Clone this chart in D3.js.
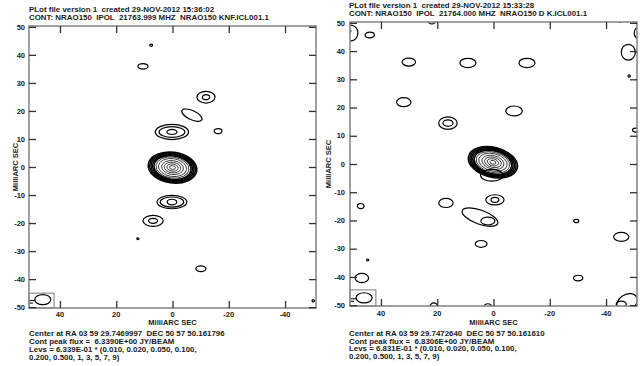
<!DOCTYPE html>
<html><head><meta charset="utf-8">
<script src="https://cdn.jsdelivr.net/npm/d3@7"></script>
<style>
html,body{margin:0;padding:0;background:#fff;}
svg text{font-family:"Liberation Sans",Arial,sans-serif;font-weight:bold;fill:#1a1a1a;white-space:pre;}
</style></head>
<body><svg id="c" width="643" height="366"></svg>
<script>
// ---- data ----
const xTicks = [40, 20, 0, -20, -40];
const yTicks = [50, 40, 30, 20, 10, 0, -10, -20, -30, -40, -50];
const axisTitle = "MilliARC SEC";
const leftHeader = ["PLot file version 1  created 29-NOV-2012 15:36:02",
                    "CONT: NRAO150  IPOL  21763.999 MHZ  NRAO150 KNF.ICL001.1"];
const rightHeader = ["PLot file version 1  created 29-NOV-2012 15:33:28",
                     "CONT: NRAO150  IPOL  21764.000 MHZ  NRAO150 D K.ICL001.1"];
const leftFooter = ["Center at RA 03 59 29.7469997  DEC 50 57 50.161796",
                    "Cont peak flux =  6.3390E+00 JY/BEAM",
                    "Levs = 6.339E-01 * (0.010, 0.020, 0.050, 0.100,",
                    "0.200, 0.500, 1, 3, 5, 7, 9)"];
const rightFooter = ["Center at RA 03 59 29.7472640  DEC 50 57 50.161610",
                     "Cont peak flux =  6.8306E+00 JY/BEAM",
                     "Levs = 6.831E-01 * (0.010, 0.020, 0.050, 0.100,",
                     "0.200, 0.500, 1, 3, 5, 7, 9)"];
// core ring scale factors (outer contour = 1)
const coreRings = [1, 0.94, 0.88, 0.82, 0.76, 0.68, 0.58, 0.45, 0.34, 0.23, 0.12];
// cores: [x mas, y mas, rx mas, ry mas, rotation deg]
const leftCore = [0.0, -0.2, 8.7, 5.5, 8];
const rightCore = [0.2, 0.6, 8.9, 5.3, 14];
// single contours: [x mas, y mas, rx mas, ry mas, rotation deg]
const leftContours = [
  [7.6, 43.4, 0.5, 0.4, 0],
  [10.5, 35.9, 1.8, 1.0, 0],
  [-11.9, 24.9, 3.2, 2.1, 0], [-11.9, 24.9, 1.3, 0.9, 0],
  [-6.9, 18.5, 3.9, 1.6, 25],
  [-16.2, 12.8, 1.4, 0.9, 0],
  [0.2, 12.5, 5.9, 2.7, 0], [0.2, 12.5, 4.6, 1.9, 0], [0.2, 12.5, 1.8, 0.9, 0],
  [0.2, -12.5, 5.3, 2.4, 0], [0.2, -12.5, 4.2, 1.8, 0], [0.2, -12.5, 1.7, 1.0, 0],
  [6.9, -19.2, 3.6, 1.95, 0], [6.9, -19.2, 1.6, 0.9, 0],
  [12.3, -25.6, 0.4, 0.3, 0],
  [-10.1, -36.3, 1.8, 1.0, 0],
  [-50.0, -47.7, 0.4, 0.4, 0]
];
const rightContours = [
  [0.6, -4.0, 4.0, 2.1, 0],
  [50.7, 46.4, 2.5, 2.8, 0], [51.0, 47.0, 0.3, 0.3, 0],
  [44.0, 45.7, 1.65, 1.0, 0],
  [30.1, 36.1, 2.4, 1.4, 0],
  [9.1, 35.8, 2.85, 1.65, 0],
  [-11.9, 35.8, 2.85, 1.65, 0],
  [31.9, 21.9, 2.55, 1.6, 0],
  [-7.3, 18.8, 2.95, 1.75, 0],
  [16.2, 14.5, 3.3, 2.2, 0], [16.2, 14.5, 1.8, 1.15, 0],
  [21.9, 51.0, 1.4, 1.4, 0],
  [-0.5, -12.7, 3.25, 1.8, 0], [-0.5, -12.7, 1.4, 0.9, 0],
  [16.9, -13.8, 2.55, 1.6, 0],
  [47.2, -14.9, 1.2, 0.9, 0],
  [4.8, -18.8, 6.7, 2.5, 20], [2.0, -20.2, 2.5, 1.4, 0],
  [4.4, -28.3, 2.1, 1.2, 0],
  [-29.4, -20.2, 0.9, 0.6, 0],
  [-45.4, -25.8, 2.7, 1.6, 0],
  [-30.1, -40.4, 1.65, 1.0, 0],
  [46.8, -40.4, 2.4, 1.65, 0],
  [44.7, -34.0, 0.35, 0.35, 0],
  [21.2, -50.6, 1.4, 1.4, 0],
  [2.0, -50.6, 1.4, 1.1, 0],
  [-47.5, -49.0, 3.9, 2.8, -30], [-45.4, -49.6, 1.8, 1.0, 0],
  [-47.9, 39.6, 2.5, 2.8, 0],
  [-52.0, 46.4, 2.0, 2.2, 0],
  [-48.2, 31.2, 0.4, 0.4, 0],
  [-50.4, 12.0, 1.0, 0.7, 0],
  [-45.0, 50.6, 0.4, 0.4, 0]
];
// beam: [x, y, rx, ry, rot], box: [xLeft, xRight, yBottom, yTop] (mas)
const leftBeam = [46.1, -47.3, 2.85, 1.8, 0];
const leftBeamBox = [51, 42.1, -50.3, -45.0];
const rightBeam = [46.0, -47.4, 2.85, 1.8, 0];
const rightBeamBox = [51, 41.8, -50.3, -44.6];

// ---- layout ----
const svg = d3.select("#c");
const panels = [
  {id:"L", xr:[29,316], yr:[308,26], header:leftHeader, footer:leftFooter,
   core:leftCore, contours:leftContours, beam:leftBeam, box:leftBeamBox,
   hx:29, hy:[12.4,20.4], fy:[336,343.8,351.8,359.6], tickLabY:317, titleY:325.2, yTitleX:18, yLabX:25},
  {id:"R", xr:[350,637], yr:[306,22], header:rightHeader, footer:rightFooter,
   core:rightCore, contours:rightContours, beam:rightBeam, box:rightBeamBox,
   hx:349, hy:[7.6,15.6], fy:[335.8,343.6,351.4,359.2], tickLabY:316.3, titleY:324.6, yTitleX:331, yLabX:345}
];

function widen(sel, k) {
  sel.each(function() {
    const L = this.getComputedTextLength();
    d3.select(this).attr("textLength", L * k).attr("lengthAdjust", "spacingAndGlyphs");
  });
}

panels.forEach(p => {
  const x = d3.scaleLinear().domain([51, -51]).range(p.xr);
  const y = d3.scaleLinear().domain([-50.3, 50.3]).range(p.yr);
  const g = svg.append("g");
  const kx = Math.abs(x(1) - x(0)), ky = Math.abs(y(1) - y(0));

  svg.append("clipPath").attr("id", "clip" + p.id).append("rect")
    .attr("x", p.xr[0]).attr("y", p.yr[1]).attr("width", p.xr[1]-p.xr[0]).attr("height", p.yr[0]-p.yr[1]);

  const cg = g.append("g").attr("clip-path", `url(#clip${p.id})`)
    .attr("fill", "none").attr("stroke", "#000");

  // core rings
  const c = p.core;
  cg.selectAll("ellipse.core").data(coreRings).join("ellipse")
    .attr("class", "core")
    .attr("transform", `translate(${x(c[0])},${y(c[1])}) rotate(${c[4]})`)
    .attr("rx", f => c[2]*f*kx).attr("ry", f => c[3]*f*ky)
    .attr("stroke-width", (f,i) => i < 5 ? 1.5 : 0.9)
    .attr("stroke", (f,i) => i < 5 ? "#000" : "#333");

  cg.selectAll("ellipse.cont").data(p.contours).join("ellipse")
    .attr("class", "cont")
    .attr("transform", d => `translate(${x(d[0])},${y(d[1])}) rotate(${d[4]})`)
    .attr("rx", d => d[2]*kx).attr("ry", d => d[3]*ky)
    .attr("stroke-width", 1.2);

  // beam
  const b = p.box;
  g.append("rect").attr("x", x(b[0])).attr("y", y(b[3]))
    .attr("width", x(b[1]) - x(b[0])).attr("height", y(b[2]) - y(b[3]))
    .attr("fill", "none").attr("stroke", "#777").attr("stroke-width", 1);
  const bm = p.beam;
  g.append("ellipse").attr("transform", `translate(${x(bm[0])},${y(bm[1])}) rotate(${bm[4]})`)
    .attr("rx", bm[2]*kx).attr("ry", bm[3]*ky)
    .attr("fill", "none").attr("stroke", "#000").attr("stroke-width", 1.2);
  g.append("line").attr("x1", x(b[0])).attr("x2", x(bm[0]) - bm[2]*kx)
    .attr("y1", y(bm[1]) + 1).attr("y2", y(bm[1]) + 1)
    .attr("stroke", "#000").attr("stroke-width", 1);
  g.append("line").attr("x1", x(b[0])).attr("x2", x(b[0]) + 4)
    .attr("y1", y(bm[1]) + 3.5).attr("y2", y(bm[1]) + 3.5)
    .attr("stroke", "#000").attr("stroke-width", 1);

  // frame
  g.append("rect").attr("x", p.xr[0]).attr("y", p.yr[1])
    .attr("width", p.xr[1]-p.xr[0]).attr("height", p.yr[0]-p.yr[1])
    .attr("fill", "none").attr("stroke", "#8a8a8a").attr("stroke-width", 1.6);

  // axes (ticks inward)
  const tl = 7;
  const axL = d3.axisRight(y).tickValues(yTicks).tickSize(tl).tickFormat("");
  const axR = d3.axisLeft(y).tickValues(yTicks).tickSize(tl).tickFormat("");
  const axT = d3.axisBottom(x).tickValues(xTicks).tickSize(tl).tickFormat("");
  const axB = d3.axisTop(x).tickValues(xTicks).tickSize(tl).tickFormat("");
  [[axL, `translate(${p.xr[0]},0)`], [axR, `translate(${p.xr[1]},0)`],
   [axT, `translate(0,${p.yr[1]})`], [axB, `translate(0,${p.yr[0]})`]].forEach(([ax, tr]) => {
    const a = g.append("g").attr("transform", tr).call(ax);
    a.select(".domain").remove();
    a.selectAll("line").attr("stroke", "#333").attr("stroke-width", 1.3);
  });

  // tick labels
  g.selectAll("text.yl").data(yTicks).join("text").attr("class", "yl")
    .attr("x", p.yLabX).attr("y", d => y(d) + 2.7).attr("text-anchor", "end")
    .attr("font-size", 7.5).text(d => d);
  g.selectAll("text.xl").data(xTicks).join("text").attr("class", "xl")
    .attr("x", d => x(d)).attr("y", p.tickLabY).attr("text-anchor", "middle")
    .attr("font-size", 7.5).text(d => d);
  g.append("text").attr("x", x(0)).attr("y", p.titleY).attr("text-anchor", "middle")
    .attr("font-size", 7.5).text(axisTitle);
  g.append("text").attr("transform", `translate(${p.yTitleX},${y(0)}) rotate(-90)`)
    .attr("text-anchor", "middle").attr("font-size", 7.5).text(axisTitle);

  const hs = g.selectAll("text.hd").data(p.header).join("text").attr("class", "hd")
    .attr("x", p.hx).attr("y", (t, i) => p.hy[i]).attr("font-size", 7).text(t => t);
  widen(hs, 1.13);
  const fs = g.selectAll("text.ft").data(p.footer).join("text").attr("class", "ft")
    .attr("x", p.hx).attr("y", (t, i) => p.fy[i]).attr("font-size", 7.3).text(t => t);
  widen(fs, 1.08);
});
</script></body></html>
